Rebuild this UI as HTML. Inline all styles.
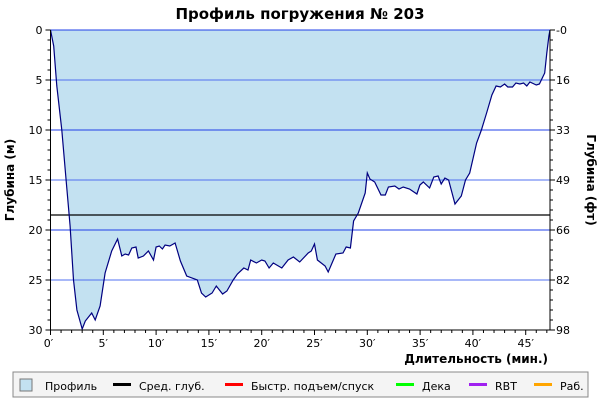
<!DOCTYPE html>
<html><head><meta charset="utf-8"><style>
body{margin:0;background:#fff;font-family:"Liberation Sans","DejaVu Sans",sans-serif}
svg text{font-family:"DejaVu Sans","Liberation Sans",sans-serif}
</style></head><body>
<svg id="chart" width="600" height="400" xmlns="http://www.w3.org/2000/svg">
<text x="300" y="19" text-anchor="middle" font-size="15" font-weight="bold">Профиль погружения № 203</text>
<g id="plot"></g>
<text transform="translate(14,180) rotate(-90)" text-anchor="middle" font-size="12" font-weight="bold">Глубина (м)</text>
<text transform="translate(587,180) rotate(90)" text-anchor="middle" font-size="12" font-weight="bold">Глубина (фт)</text>
<text x="548" y="363" text-anchor="end" font-size="12" font-weight="bold">Длительность (мин.)</text>
<g font-size="11">
<rect x="13" y="372" width="575" height="25" fill="#f4f4f4" stroke="#888"/>
<g><rect x="20" y="379" width="12" height="12" fill="#c3e1f1" stroke="#777"/><text x="45" y="390">Профиль</text></g>
<g><rect x="113" y="383" width="18" height="3" fill="#000"/><text x="139" y="390">Сред. глуб.</text></g>
<g><rect x="225" y="383" width="18" height="3" fill="#f00"/><text x="251" y="390">Быстр. подъем/спуск</text></g>
<g><rect x="396" y="383" width="18" height="3" fill="#0f0"/><text x="422" y="390">Дека</text></g>
<g><rect x="469" y="383" width="18" height="3" fill="#a020f0"/><text x="495" y="390">RBT</text></g>
<g><rect x="534" y="383" width="18" height="3" fill="#ffa500"/><text x="560" y="390">Раб.</text></g>
</g>
</svg>
<script>
const times=[0,0.3,0.6,1.07,1.48,1.86,2.18,2.5,3.0,3.3,3.9,4.23,4.7,5.17,5.8,6.35,6.75,7.07,7.4,7.7,8.1,8.3,8.8,9.27,9.75,10,10.3,10.6,10.85,11.3,11.8,12.3,12.9,13.9,14.3,14.7,15.3,15.7,16.3,16.7,17.3,17.7,18.3,18.7,18.96,19.5,20,20.3,20.7,21.1,21.9,22.5,23,23.6,24.4,24.7,25.0,25.27,26.0,26.3,27.03,27.7,28.0,28.4,28.7,29.15,29.8,30.0,30.25,30.7,31.3,31.7,32.0,32.6,33.0,33.4,34.0,34.7,34.98,35.3,35.9,36.3,36.7,37.0,37.35,37.7,38.3,38.9,39.3,39.7,40.35,40.8,41.3,41.8,42.2,42.6,43.0,43.3,43.75,44.07,44.45,44.8,45.1,45.4,46.0,46.3,46.8,47.0,47.2,47.3];
const depths=[0,1.6,5.6,10,15,19.6,25,28,29.9,29.1,28.3,29,27.6,24.3,22.1,20.9,22.6,22.4,22.5,21.8,21.7,22.8,22.6,22.1,23,21.7,21.6,21.9,21.5,21.6,21.3,23.1,24.6,25,26.3,26.7,26.3,25.6,26.4,26.1,25,24.4,23.8,24,23,23.3,23,23.1,23.8,23.3,23.8,23,22.7,23.2,22.3,22.1,21.4,23,23.6,24.2,22.4,22.3,21.7,21.8,19.1,18.3,16.3,14.3,14.9,15.2,16.5,16.5,15.7,15.6,15.9,15.7,15.9,16.4,15.5,15.2,15.8,14.7,14.6,15.4,14.8,15,17.4,16.6,15,14.3,11.3,10,8.3,6.5,5.6,5.7,5.4,5.7,5.7,5.3,5.4,5.3,5.6,5.2,5.5,5.4,4.3,2.3,0.6,0];
const avgDepth=18.5;
const xTicks=[0,5,10,15,20,25,30,35,40,45];
const yTicks=[0,5,10,15,20,25,30];
const ftLabels=["0","16","33","49","66","82","98"];
const X0=50.5,X1=550,Y0=30,Y1=330,TMAX=47.3,DMAX=30;
const xs=t=>X0+t*(X1-X0)/TMAX;
const ys=d=>Y0+d*(Y1-Y0)/DMAX;
const NS="http://www.w3.org/2000/svg";
const plot=document.getElementById('plot');
function mk(tag,attrs){const e=document.createElementNS(NS,tag);for(const k in attrs)e.setAttribute(k,attrs[k]);plot.appendChild(e);return e;}
let pts=times.map((t,i)=>xs(t).toFixed(1)+','+ys(depths[i]).toFixed(1)).join(' ');
const area=mk('polygon',{points:xs(times[0])+','+Y0+' '+pts+' '+xs(times[times.length-1])+','+Y0,fill:'#c3e1f1'});


yTicks.forEach((d,i)=>{
 const g=mk('line',{x1:X0,x2:X1,y1:ys(d),y2:ys(d),stroke:i%2?'#5070f0':'#2040e8','stroke-width':1});
 
 
});
const av=mk('line',{x1:X0,x2:X1,y1:ys(avgDepth),y2:ys(avgDepth),stroke:'#000','stroke-width':1.2});


const ln=mk('polyline',{points:pts,fill:'none',stroke:'#000080','stroke-width':1.2});


mk('line',{x1:X0,x2:X0,y1:Y0,y2:Y1,stroke:'#000'});
mk('line',{x1:X1,x2:X1,y1:Y0,y2:Y1,stroke:'#000'});
mk('line',{x1:X0,x2:X1,y1:Y1,y2:Y1,stroke:'#000'});
for(let d=0;d<=30;d++){const major=d%5===0;
 mk('line',{x1:X0-(major?5:3),x2:X0,y1:ys(d),y2:ys(d),stroke:'#000'});
 mk('line',{x1:X1,x2:X1+(major?5:3),y1:ys(d),y2:ys(d),stroke:'#000'});}
for(let t=0;t<=47;t++){mk('line',{x1:xs(t),x2:xs(t),y1:Y1,y2:Y1+(t%5===0?5:3),stroke:'#000'});}
yTicks.forEach((d,i)=>{
 const a=mk('text',{x:X0-8,y:ys(d)+4,'text-anchor':'end','font-size':11});a.textContent=d;
 
 
 const b=mk('text',{x:X1+6,y:ys(d)+4,'font-size':11});b.textContent=(i===0?'-':'')+ftLabels[i];
 
 
});
xTicks.forEach(t=>{
 const a=mk('text',{x:xs(t)-(t===0?2:0),y:Y1+17,'text-anchor':'middle','font-size':11});a.textContent=t+'′';
 
 
});
</script>
</body></html>
